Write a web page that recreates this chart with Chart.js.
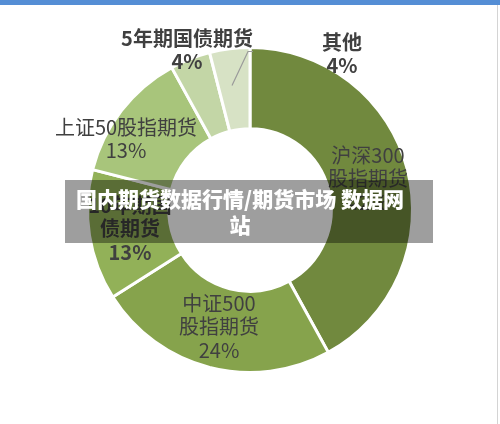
<!DOCTYPE html>
<html>
<head>
<meta charset="utf-8">
<script src="https://cdn.jsdelivr.net/npm/chart.js@4/dist/chart.umd.min.js"></script>
<style>
  body { margin: 0; background: #fff; }
  #wrap { position: relative; width: 500px; height: 424px; overflow: hidden; }
  #topbar { position: absolute; left: 0; top: 0; width: 500px; height: 5px; background: #558ed5; }
  #edge { position: absolute; left: 497px; top: 5px; width: 1px; height: 419px; background: #d4d4d4; }
  #banner {
    position: absolute; left: 65px; top: 180px; width: 368px; height: 63px;
    background: rgba(0, 0, 0, 0.38); color: #fff; text-align: center;
    font-family: "Noto Sans CJK SC", "Noto Sans", sans-serif; font-weight: 900;
    font-size: 21px; line-height: 26px; padding-top: 5px; padding-right: 18px;
    box-sizing: border-box;
  }
</style>
</head>
<body>
<div id="wrap">
  <canvas id="myChart" width="500" height="424"></canvas>
  <div id="topbar"></div>
  <div id="edge"></div>
  <div id="banner">国内期货数据行情/期货市场 数据网<br>站</div>
</div>
<script>
// segments, clockwise from 12 o'clock
var categories = ['沪深300股指期货', '中证500股指期货', '10年期国债期货', '上证50股指期货', '5年期国债期货', '其他']
var shares = [42, 24, 13, 13, 4, 4]
var label_lines = [
    ['沪深300', '股指期货', '42%'],
    ['中证500', '股指期货', '24%'],
    ['10年期国', '债期货', '13%'],
    ['上证50股指期货', '13%'],
    ['5年期国债期货', '4%'],
    ['其他', '4%']
]
var label_bold = [false, false, true, false, true, true]
var colours = ['#71893e', '#86a34c', '#92b158', '#a8c57b', '#c3d6a6', '#d7e2c5']

// label anchor offsets from the centre of the ring (first line)
var label_offsets = [[118, -55], [-31, 93], [-120, -5], [-124, -83], [-63, -172], [92, -168]]

const labelPlugin = {
    id: 'sliceLabels',
    afterDatasetsDraw(chart) {
        const ctx = chart.ctx
        const arc = chart.getDatasetMeta(0).data[0]
        const cx = arc.x, cy = arc.y
        ctx.save()
        ctx.textAlign = 'center'
        ctx.textBaseline = 'middle'
        ctx.fillStyle = '#404040'
        label_lines.forEach((lines, i) => {
            ctx.font = (label_bold[i] ? 'bold ' : '') + '20px "Noto Sans CJK SC", sans-serif'
            lines.forEach((t, j) => {
                ctx.fillText(t, cx + label_offsets[i][0], cy + label_offsets[i][1] + j * 23.5)
            })
        })
        // leader line for 其他
        const r = arc.outerRadius
        ctx.strokeStyle = '#9a9a9a'
        ctx.lineWidth = 1.2
        ctx.beginPath()
        ctx.moveTo(cx + 3, cy - r + 4)
        ctx.lineTo(cx - 2, cy - r + 4)
        ctx.lineTo(cx - 18, cy - r + 38)
        ctx.stroke()
        ctx.restore()
    }
}

const config = {
    type: 'doughnut',
    data: {
        labels: categories,
        datasets: [{
            data: shares,
            backgroundColor: colours,
            borderColor: '#ffffff',
            borderWidth: 3
        }]
    },
    options: {
        responsive: false,
        animation: false,
        cutout: '50%',
        layout: {
            padding: { top: 46, bottom: 50, left: 86, right: 86 }
        },
        plugins: {
            legend: { display: false },
            tooltip: { enabled: false }
        }
    },
    plugins: [labelPlugin]
}

var myChart = new Chart(document.getElementById('myChart'), config)
</script>
</body>
</html>
